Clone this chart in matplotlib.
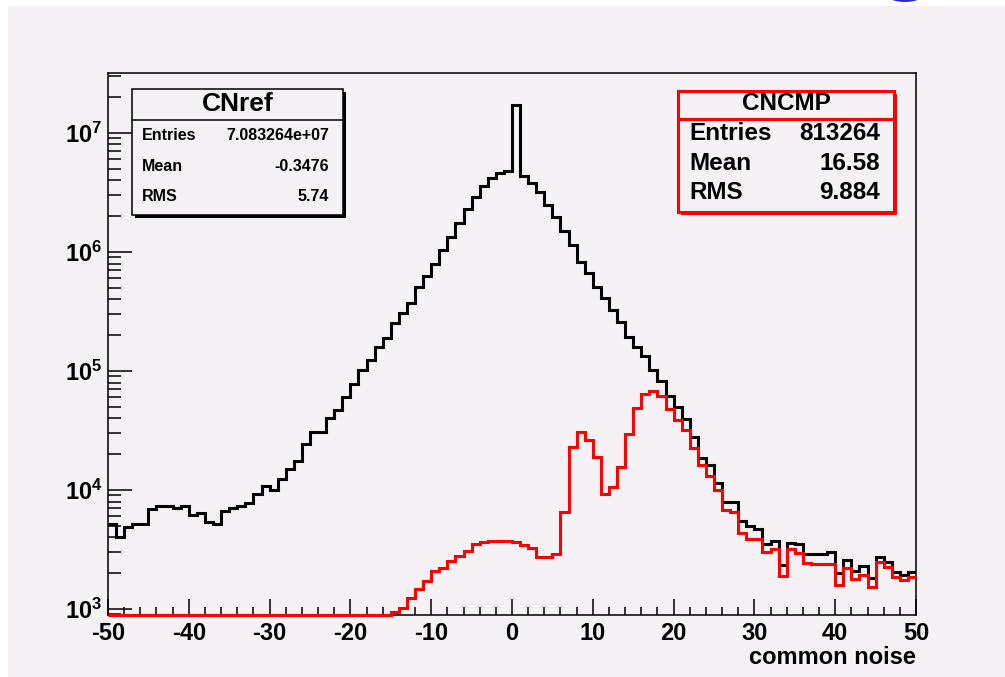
import numpy as np
import matplotlib
matplotlib.use("Agg")
import matplotlib.pyplot as plt
from matplotlib.patches import Rectangle, Ellipse
from matplotlib.lines import Line2D
from matplotlib.ticker import MultipleLocator, LogLocator, FuncFormatter, NullFormatter

# 100 bins of width 1 from -50 to 50
edges = np.arange(-50, 51, 1)

# CNref (black), bin contents
cn_ref = np.array([
    5180, 4020, 4870, 5220, 5220, 6880, 7290, 7290, 7020, 7290,
    6200, 6370, 5420, 5200, 6650, 7120, 7340, 7820, 9200, 10800,
    10100, 12450, 15100, 17450, 24500, 30500, 30500, 40000, 47000, 60800,
    77500, 101000, 123600, 160000, 190500, 251900, 305600, 370800, 505000, 628000,
    792000, 1040000, 1345000, 1763000, 2284000, 2880000, 3590000, 4160000, 4640000, 4820000,
    17200000, 4350000, 3820000, 3210000, 2480000, 1980000, 1510000, 1146000, 830000, 662000,
    511000, 408000, 326000, 260000, 194000, 160000, 134000, 102000, 82000, 62000,
    50100, 39400, 27700, 18500, 16200, 11500, 7980, 7980, 5520, 4980,
    4670, 3520, 3750, 2340, 3600, 3520, 2900, 2900, 2900, 2990,
    2020, 2580, 2100, 2280, 1810, 2750, 2480, 2060, 1930, 2060,
])

# CNCMP (red)
cn_cmp = np.array([
    0, 0, 0, 0, 0, 0, 0, 0, 0, 0,
    0, 0, 0, 0, 0, 0, 0, 0, 0, 0,
    0, 0, 0, 0, 0, 0, 0, 0, 0, 0,
    0, 0, 0, 0, 0, 950, 1030, 1250, 1460, 1730,
    2100, 2200, 2530, 2790, 3090, 3520, 3680, 3750, 3750, 3750,
    3680, 3420, 3270, 2750, 2750, 2900, 6580, 22900, 30900, 26300,
    18800, 9250, 10700, 15700, 29600, 48600, 63500, 67900, 61600, 47600,
    38700, 31900, 22400, 16200, 13100, 10000, 6790, 6580, 4380, 3850,
    3850, 3030, 3180, 1890, 3180, 2940, 2420, 2390, 2390, 2390,
    1590, 2200, 1780, 1930, 1520, 2490, 2270, 1870, 1750, 1870,
])

ref_title = "CNref"
ref_stats = [("Entries", "7.083264e+07"), ("Mean", "-0.3476"), ("RMS", "5.74")]
cmp_title = "CNCMP"
cmp_stats = [("Entries", "813264"), ("Mean", "16.58"), ("RMS", "9.884")]

BG = "#f5f1f5"
W, H = 1005, 677
YMIN, YMAX = 891, 3.19e7

plt.rcParams["font.family"] = ["Liberation Sans", "DejaVu Sans"]
plt.rcParams["font.weight"] = "bold"
plt.rcParams["axes.unicode_minus"] = False
plt.rcParams["mathtext.fontset"] = "custom"
plt.rcParams["mathtext.bf"] = "Liberation Sans:bold"
plt.rcParams["mathtext.rm"] = "Liberation Sans:bold"


def fx(px):
    return px / W


def fy(py):
    return 1 - py / H


fig = plt.figure(figsize=(W / 100, H / 100), dpi=100, facecolor="white")
fig.patches.append(Rectangle((fx(8), 0), 1 - fx(8), fy(6), transform=fig.transFigure,
                             facecolor=BG, edgecolor="none", zorder=-1))
fig.patches.append(Ellipse((fx(905), fy(-9)), 44 / W, 22 / H, transform=fig.transFigure,
                           facecolor="#2a2ad0", edgecolor="none", zorder=1))

ax = fig.add_axes([fx(108), fy(615), fx(916) - fx(108), fy(73) - fy(615)])
ax.set_facecolor(BG)

ax.stairs(cn_ref, edges, baseline=None, color="black", lw=2.2, zorder=3)
ax.stairs(np.clip(cn_cmp, YMIN, None), edges, baseline=None, color="red", lw=2.2,
          zorder=4, clip_on=False)

ax.set_yscale("log")
ax.set_xlim(-50, 50)
ax.set_ylim(YMIN, YMAX)

ax.xaxis.set_major_locator(MultipleLocator(10))
ax.xaxis.set_minor_locator(MultipleLocator(2))
ax.yaxis.set_major_locator(LogLocator(base=10))
ax.yaxis.set_minor_locator(LogLocator(base=10, subs=np.arange(2, 10)))
ax.yaxis.set_major_formatter(FuncFormatter(lambda v, p: r"$\mathbf{10^{%d}}$" % round(np.log10(v))))
ax.yaxis.set_minor_formatter(NullFormatter())

for s in ax.spines.values():
    s.set_linewidth(1.1)
ax.tick_params(axis="x", which="major", direction="in", length=11.5, width=1.1, labelsize=17, pad=5, top=False)
ax.tick_params(axis="x", which="minor", direction="in", length=5.8, width=1.1, top=False)
ax.tick_params(axis="y", which="major", direction="in", length=17.3, width=1.1, labelsize=17, pad=4, right=False)
ax.tick_params(axis="y", which="minor", direction="in", length=9.4, width=1.1, right=False)

fig.text(fx(916), fy(657), "common noise", ha="right", va="center", fontsize=17, weight="bold")


def stat_box(x0, y0, x1, y1, ydiv, color, lw, title, tsize, ty, rows, rsize, row_y, lab_x, val_x):
    fig.patches.append(Rectangle((fx(x0 + 3), fy(y1 + 3)), fx(x1) - fx(x0), fy(y0) - fy(y1),
                                 transform=fig.transFigure, facecolor=color, edgecolor="none", zorder=5))
    fig.patches.append(Rectangle((fx(x0), fy(y1)), fx(x1) - fx(x0), fy(y0) - fy(y1),
                                 transform=fig.transFigure, facecolor=BG, edgecolor=color, lw=lw, zorder=6))
    fig.lines.append(Line2D([fx(x0), fx(x1)], [fy(ydiv), fy(ydiv)], transform=fig.transFigure,
                            color=color, lw=lw, zorder=7))
    fig.text(fx((x0 + x1) / 2), fy(ty), title, ha="center", va="center", fontsize=tsize, zorder=8)
    for (lab, val), yy in zip(rows, row_y):
        fig.text(fx(lab_x), fy(yy), lab, ha="left", va="center", fontsize=rsize, zorder=8)
        fig.text(fx(val_x), fy(yy), val, ha="right", va="center", fontsize=rsize, zorder=8)


stat_box(132, 89, 343, 215, 120, "black", 1.1, ref_title, 19, 104,
         ref_stats, 11.5, [135, 166, 197], 142, 329)
stat_box(678, 91, 894, 212, 119, "red", 2.2, cmp_title, 17.5, 103,
         cmp_stats, 17.5, [134, 163, 193], 689, 880)

fig.savefig("out.png", dpi=100, facecolor="white")
